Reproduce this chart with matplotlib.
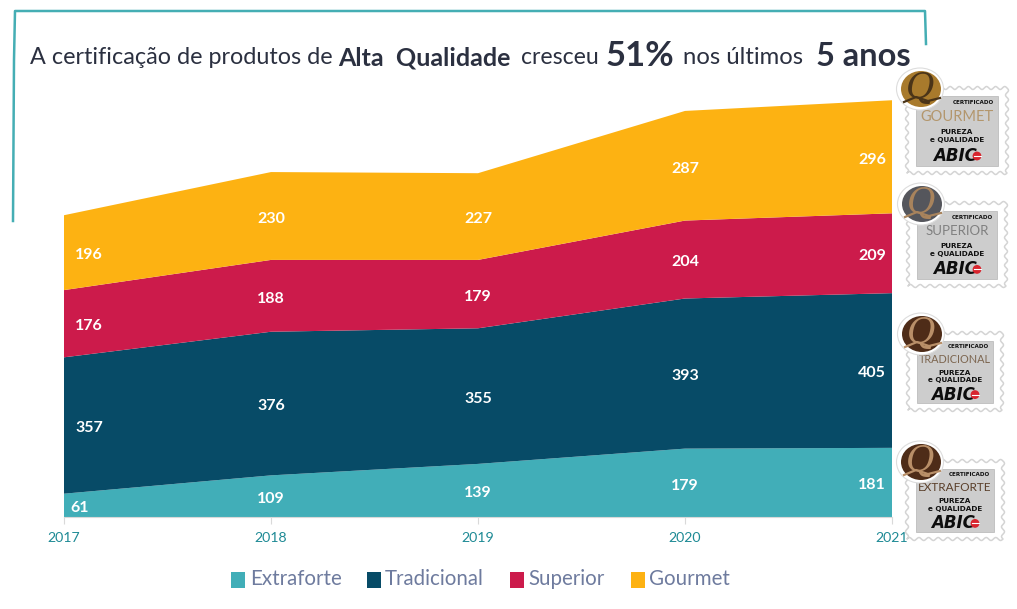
#!/usr/bin/env python3

import numpy as np
import matplotlib
matplotlib.use("Agg")
import matplotlib.pyplot as plt
from matplotlib.patches import Circle, Ellipse, Rectangle

years = [2017, 2018, 2019, 2020, 2021]
extraforte = [61, 109, 139, 179, 181]
tradicional = [357, 376, 355, 393, 405]
superior = [176, 188, 179, 204, 209]
gourmet = [196, 230, 227, 287, 296]

series_names = ["Extraforte", "Tradicional", "Superior", "Gourmet"]
series = [extraforte, tradicional, superior, gourmet]
colors = ["#41AEB8", "#074B67", "#CC1B4B", "#FDB212"]

stamp_names = ["EXTRAFORTE", "TRADICIONAL", "SUPERIOR", "GOURMET"]
stamp_text_colors = ["#5A3F2A", "#7D6650", "#808080", "#B3966C"]
coin_colors = ["#4E2C18", "#4E2C18", "#55565C", "#A87A2C"]
q_colors = ["#B98F68", "#B98F68", "#A8835C", "#4A3418"]

W, H = 1017, 609
plt.rcParams['font.family'] = ['Lato', 'DejaVu Sans']

fig = plt.figure(figsize=(W / 100, H / 100), dpi=100)

# area chart
top_px, bottom_px = 58.6, 517
ax = fig.add_axes([64 / W, 1 - bottom_px / H, (892 - 64) / W, (bottom_px - top_px) / H])
ax.stackplot(years, series, colors=colors, labels=series_names, linewidth=0)
ax.set_xlim(2017, 2021)
ax.set_ylim(0, 1200)
ax.set_yticks([])
ax.set_xticks(years)
ax.tick_params(axis='x', length=5, color="#D9D9D9", labelcolor="#1E8A95", labelsize=10.2, pad=6)
for s in ["top", "left", "right"]:
    ax.spines[s].set_visible(False)
ax.spines["bottom"].set_color("#D9D9D9")
ax.patch.set_alpha(0)

# value labels, pulled inwards at both ends
offsets = [18, 0, 0, 0, -14.5]
base = np.zeros(len(years))
for vals in series:
    for i, v in enumerate(vals):
        dx = offsets[i]
        if v == 61:
            dx = 11.5
        ax.annotate(str(v), (years[i], base[i] + v / 2), xytext=(dx, -2),
                    textcoords="offset points", ha="center", va="center",
                    color="white", fontsize=11.5, fontweight="bold")
    base += np.array(vals)

# overlay in pixel coordinates
ov = fig.add_axes([0, 0, 1, 1], facecolor="none")
ov.set_xlim(0, W)
ov.set_ylim(H, 0)
ov.axis("off")

# teal bracket around the title
ov.plot([13, 14, 15, 925, 926], [221, 60, 11, 11, 44], color="#45AEB4", lw=1.8,
        solid_joinstyle="round")

# title pieces
dark = "#2B3040"
ov.text(30, 58, "A certificação de produtos de", fontsize=16.8, color=dark, va="center")
ov.text(338, 58, "Alta  Qualidade", fontsize=18, color=dark, va="center", fontweight="bold")
ov.text(521, 58, "cresceu", fontsize=16.6, color=dark, va="center")
ov.text(606, 56, "51%", fontsize=25, color=dark, va="center", fontweight="bold")
ov.text(683, 58, "nos últimos", fontsize=17.2, color=dark, va="center")
ov.text(816, 56, "5 anos", fontsize=23.5, color=dark, va="center", fontweight="bold")

# legend
leg_x = [231, 367, 510, 631]
txt_x = [250, 385, 528, 649]
for x, tx, c, name in zip(leg_x, txt_x, colors, series_names):
    ov.add_patch(Rectangle((x, 572), 14, 16, color=c, lw=0))
    ov.text(tx, 579, name, fontsize=14.8, color="#6E7B9E", va="center")


def scallop(x0, y0, w, h):
    # wavy stamp outline, clockwise from the top left corner
    n_x, n_y = int(w / 9), int(h / 9)
    tx = np.linspace(0, 1, n_x * 12)
    ty = np.linspace(0, 1, n_y * 12)
    wave_x = 1.5 * np.sin(2 * np.pi * n_x * tx)
    wave_y = 1.5 * np.sin(2 * np.pi * n_y * ty)
    xs = np.r_[x0 + w * tx, x0 + w + wave_y, x0 + w * tx[::-1], x0 - wave_y[::-1]]
    ys = np.r_[y0 + wave_x, y0 + h * ty, y0 + h - wave_x[::-1], y0 + h * ty[::-1]]
    return xs, ys


def stamp(x0, y0, w, h, name, name_size, name_color, coin, q_color):
    xs, ys = scallop(x0, y0, w, h)
    ov.fill(xs, ys, color="white", zorder=4)
    ov.plot(xs, ys, color="#D4D4D4", lw=1.1, zorder=4)
    ov.add_patch(Rectangle((x0 + 9, y0 + 8), w - 18, h - 15, color="#CDCDCD", ec="#B5B5B5",
                           lw=0.5, zorder=5))
    k = h / 85
    mid = x0 + w / 2
    ov.text(x0 + w - 13, y0 + 15 * k, "CERTIFICADO", fontsize=4.1, fontweight="bold", ha="right",
            va="center", color="#111111", family="DejaVu Sans", zorder=6)
    ov.text(mid, y0 + 29 * k, name, fontsize=name_size, ha="center",
            va="center", color=name_color, zorder=6)
    ov.text(mid, y0 + 44 * k, "PUREZA", fontsize=5.2, fontweight="bold", ha="center",
            va="center", color="#111111", family="DejaVu Sans", zorder=6)
    ov.text(mid, y0 + 52 * k, "e QUALIDADE", fontsize=5.2, fontweight="bold", ha="center",
            va="center", color="#111111", family="DejaVu Sans", zorder=6)
    ov.text(mid - 2, y0 + 68 * k, "ABIC", fontsize=12, fontweight="bold", fontstyle="italic",
            ha="center", va="center", color="#0D0D0D", family="DejaVu Sans", zorder=6)
    ov.add_patch(Circle((mid + 20, y0 + 68 * k), 4.4, color="#D8252E", lw=0, zorder=7))
    ov.plot([mid + 16.5, mid + 23.5], [y0 + 68 * k] * 2, color="white", lw=0.8, zorder=7)
    # coin with the Q on the top left corner
    cx, cy = x0 + 13, y0 + 1
    ov.add_patch(Ellipse((cx, cy), 47, 42, color="white", ec="#DDDDDD", lw=0.8, zorder=8))
    ov.add_patch(Ellipse((cx + 1, cy), 40, 36, color=coin, lw=0, zorder=9))
    ov.text(cx, cy - 1, "Q", fontsize=25, fontstyle="italic", color=q_color, ha="center",
            va="center", family="DejaVu Serif", zorder=10)
    ov.plot([cx - 16, cx - 4, cx + 8, cx + 20], [cy + 13, cy + 8, cy + 12, cy + 9], color=q_color,
            lw=1.6, zorder=10)


stamp_x = [907, 908, 908, 907]
stamp_y = [461, 333, 203, 88]
stamp_w = [96, 94, 98, 100]
stamp_h = [78, 77, 83, 85]
name_sizes = [8.5, 7.8, 9.5, 10.5]
for i in range(4):
    stamp(stamp_x[i], stamp_y[i], stamp_w[i], stamp_h[i], stamp_names[i], name_sizes[i],
          stamp_text_colors[i], coin_colors[i], q_colors[i])

fig.savefig("out.png", dpi=100)
plt.close(fig)
